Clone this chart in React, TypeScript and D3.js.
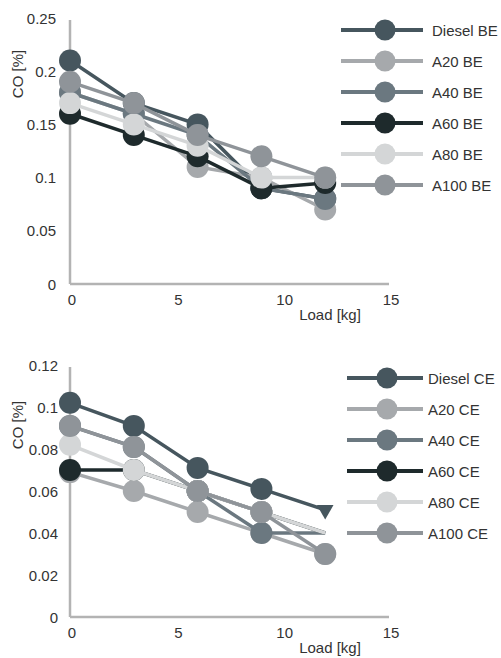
import React from "react";
import * as d3 from "d3";

const loads = [0, 3, 6, 9, 12];
const seriesNames = ["Diesel", "A20", "A40", "A60", "A80", "A100"];
const seriesColors = ["#46565e", "#a6a9ac", "#6b7880", "#1e2a2c", "#d4d6d7", "#8f9499"];

// BE (top chart)
const dieselBE = [0.21, 0.17, 0.15, 0.09, 0.08];
const a20BE = [0.18, 0.16, 0.11, 0.1, 0.07];
const a40BE = [0.18, 0.16, 0.14, 0.09, 0.08];
const a60BE = [0.16, 0.14, 0.12, 0.09, 0.095];
const a80BE = [0.17, 0.15, 0.13, 0.1, 0.1];
const a100BE = [0.19, 0.17, 0.14, 0.12, 0.1];

// CE (bottom chart)
const dieselCE = [0.102, 0.091, 0.071, 0.061, 0.051];
const a20CE = [0.069, 0.06, 0.05, 0.04, 0.03];
const a40CE = [0.091, 0.081, 0.06, 0.04, 0.04];
const a60CE = [0.07, 0.07, 0.06, 0.05, 0.04];
const a80CE = [0.082, 0.07, 0.06, 0.05, 0.04];
const a100CE = [0.091, 0.081, 0.06, 0.05, 0.03];
// whether the marker at the last load is drawn, per series (CE chart)
const lastMarkerCE = [true, true, false, false, false, true];
const lastMarkerBE = [true, true, true, true, true, true];

const xTicks = [0, 5, 10, 15];
const yTicksBE = [0, 0.05, 0.1, 0.15, 0.2, 0.25];
const yTicksCE = [0, 0.02, 0.04, 0.06, 0.08, 0.1, 0.12];

const FONT = "'Liberation Sans', Arial, sans-serif";

type ChartProps = {
  data: number[][];
  lastMarker: boolean[];
  suffix: string;
  yMax: number;
  yTicks: number[];
  top: number;
  bottom: number;
  labelRight: number;
  titleY: number;
  legendTop: number;
  legendLineX0: number;
  legendCircleX: number;
  legendTextX: number;
  triangleLast?: boolean;
};

function Chart(p: ChartProps) {
  const x = d3.scaleLinear().domain([0, 15]).range([70, 389]);
  const y = d3.scaleLinear().domain([0, p.yMax]).range([p.bottom, p.top]);
  const line = d3
    .line<number>()
    .x((_, i) => x(loads[i]))
    .y((d) => y(d));
  const fmt = (v: number) => (v === 0 ? "0" : String(+v.toFixed(2)));
  const tri = d3.symbol().type(d3.symbolTriangle).size(120)();
  return (
    <g>
      {/* axes */}
      <line x1={x(0)} x2={x(0)} y1={y(p.yMax) + 2} y2={y(0)} stroke="#b3b3b3" strokeWidth={2.5} />
      <line x1={x(0)} x2={x(15)} y1={y(0)} y2={y(0)} stroke="#b3b3b3" strokeWidth={2.5} />
      {p.yTicks.map((t) => (
        <text
          key={"y" + t}
          x={p.labelRight}
          y={y(t)}
          textAnchor="end"
          dominantBaseline="central"
          fontSize={15}
          fill="#333"
          fontFamily={FONT}
        >
          {fmt(t)}
        </text>
      ))}
      {xTicks.map((t) => (
        <text
          key={"x" + t}
          x={x(t) + 2}
          y={y(0) + 15}
          textAnchor="middle"
          dominantBaseline="central"
          fontSize={15}
          fill="#333"
          fontFamily={FONT}
        >
          {t}
        </text>
      ))}
      <text
        x={330}
        y={y(0) + 30}
        textAnchor="middle"
        dominantBaseline="central"
        fontSize={15}
        fill="#333"
        fontFamily={FONT}
      >
        Load [kg]
      </text>
      <text
        transform={`translate(17,${p.titleY}) rotate(-90)`}
        textAnchor="middle"
        dominantBaseline="central"
        fontSize={15}
        fill="#333"
        fontFamily={FONT}
      >
        CO [%]
      </text>
      {/* series */}
      {p.data.map((vals, si) => (
        <g key={"s" + si}>
          <path d={line(vals) || ""} fill="none" stroke={seriesColors[si]} strokeWidth={3.5} />
          {vals.map((v, i) => {
            const isLast = i === vals.length - 1;
            if (isLast && !p.lastMarker[si]) return null;
            return p.triangleLast && si === 0 && isLast ? (
              <path
                key={i}
                d={tri || ""}
                transform={`translate(${x(loads[i])},${y(v)}) rotate(180)`}
                fill={seriesColors[si]}
              />
            ) : (
              <circle key={i} cx={x(loads[i])} cy={y(v)} r={11} fill={seriesColors[si]} />
            );
          })}
        </g>
      ))}
      {/* legend */}
      {seriesNames.map((n, i) => {
        const ly = p.legendTop + i * 31;
        return (
          <g key={"l" + n}>
            <line x1={p.legendLineX0} x2={423} y1={ly} y2={ly} stroke={seriesColors[i]} strokeWidth={4} />
            <circle cx={p.legendCircleX} cy={ly} r={10.5} fill={seriesColors[i]} />
            <text
              x={p.legendTextX}
              y={ly}
              dominantBaseline="central"
              fontSize={15}
              fill="#333"
              fontFamily={FONT}
            >
              {n + " " + p.suffix}
            </text>
          </g>
        );
      })}
    </g>
  );
}

export default function App() {
  return (
    <svg
      width={501}
      height={658}
      style={{ position: "absolute", left: 0, top: 0, background: "#fff" }}
    >
      <rect width={501} height={658} fill="#fff" />
      <Chart
        data={[dieselBE, a20BE, a40BE, a60BE, a80BE, a100BE]}
        lastMarker={lastMarkerBE}
        suffix="BE"
        yMax={0.25}
        yTicks={yTicksBE}
        top={18}
        bottom={284}
        labelRight={56}
        titleY={74}
        legendTop={30}
        legendLineX0={341}
        legendCircleX={385}
        legendTextX={432}
      />
      <Chart
        data={[dieselCE, a20CE, a40CE, a60CE, a80CE, a100CE]}
        lastMarker={lastMarkerCE}
        suffix="CE"
        yMax={0.12}
        yTicks={yTicksCE}
        top={365}
        bottom={617}
        labelRight={58}
        titleY={425}
        legendTop={378}
        legendLineX0={347}
        legendCircleX={387}
        legendTextX={428}
        triangleLast
      />
    </svg>
  );
}
